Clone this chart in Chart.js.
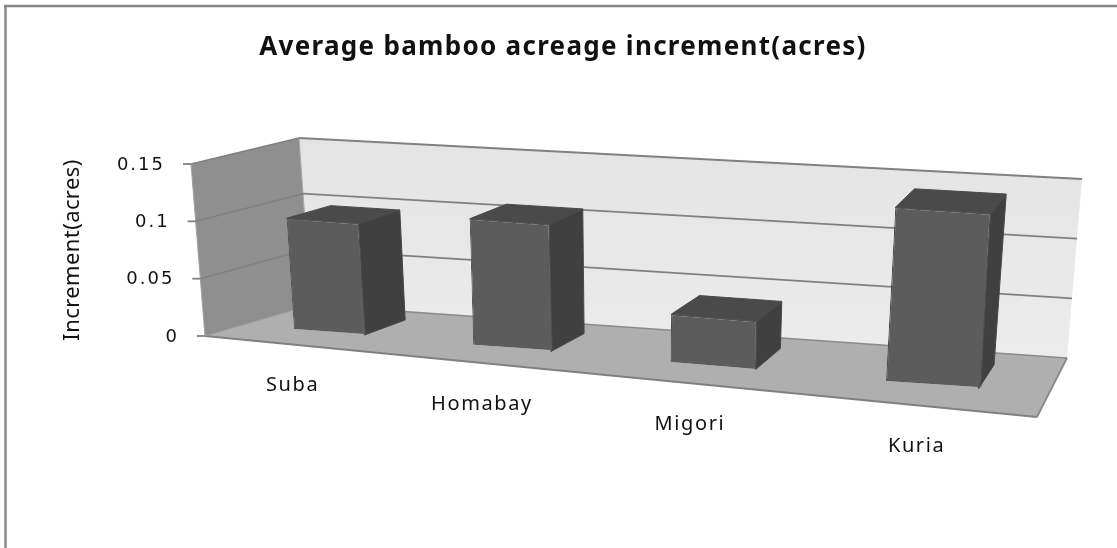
<!DOCTYPE html>
<html>
<head>
<meta charset="utf-8">
<style>html,body{margin:0;padding:0;background:#fff}#wrap{width:1117px;height:548px}</style>
<script src="https://cdn.jsdelivr.net/npm/chart.js@4"></script>
</head>
<body>
<div id="wrap"><canvas id="c" width="1117" height="548"></canvas></div>
<script>
const categories = ["Suba", "Homabay", "Migori", "Kuria"];
const values = [0.097, 0.108, 0.04, 0.142];
const yTickLabels = ["0", "0.05", "0.1", "0.15"];
const chartTitle = "Average bamboo acreage increment(acres)";
const yAxisTitle = "Increment(acres)";

const frontPlane = {lb:[205,336], rb:[1037,417], lt:[191,164], rt:[1053,226]};
const backPlane  = {lb:[311,305], rb:[1067,358], lt:[299,138], rt:[1082,179]};
const barDepth = [0.37, 0.8];
const warp = 0.18;
const lerp = (a,b,t)=>a+(b-a)*t;
function onPlane(p,u,v){
  return [0,1].map(i=>lerp(lerp(p.lb[i],p.rb[i],u),lerp(p.lt[i],p.rt[i],u),v));
}
function P(u,v,d){
  const wu = u*(1+warp*(u-1));
  const f = onPlane(frontPlane,wu,v), b = onPlane(backPlane,wu,v);
  return [lerp(f[0],b[0],d),lerp(f[1],b[1],d)];
}
function uv(chart,x,y){
  const a = chart.chartArea;
  return [(x-a.left)/(a.right-a.left),(a.bottom-y)/(a.bottom-a.top)];
}
function poly(ctx,pts,fill,stroke,lw){
  ctx.beginPath();
  pts.forEach((p,i)=>i?ctx.lineTo(p[0],p[1]):ctx.moveTo(p[0],p[1]));
  ctx.closePath();
  if(fill){ctx.fillStyle=fill;ctx.fill();}
  if(stroke){ctx.strokeStyle=stroke;ctx.lineWidth=lw||1;ctx.stroke();}
}
function line(ctx,a,b,color,lw){
  ctx.beginPath();ctx.moveTo(a[0],a[1]);ctx.lineTo(b[0],b[1]);
  ctx.strokeStyle=color;ctx.lineWidth=lw;ctx.stroke();
}
const scene3d = {
  id:'scene3d',
  afterLayout(chart){
    const s = chart.scales.y, ctx = chart.ctx;
    if(!s._wrapped){
      const orig = s.drawTitle;
      s.drawTitle = function(){
        ctx.save();ctx.letterSpacing='0.4px';orig.call(this);ctx.restore();
      };
      s._wrapped = true;
    }
  },
  beforeDraw(chart){
    const ctx = chart.ctx;
    ctx.letterSpacing = '1.3px';
    line(ctx,[5.5,548],[5.5,5],'#8e8e8e',2.6);
    line(ctx,[4,6],[1117,6],'#858585',2.4);
  },
  beforeDatasetsDraw(chart){
    const ctx = chart.ctx, ys = chart.scales.y;
    const grad = ctx.createLinearGradient(0,140,0,360);
    grad.addColorStop(0,'#e4e4e4');grad.addColorStop(1,'#ececec');
    poly(ctx,[P(0,0,1),P(1,0,1),P(1,1,1),P(0,1,1)],grad);
    poly(ctx,[P(0,0,0),P(0,0,1),P(0,1,1),P(0,1,0)],'#8f8f8f');
    poly(ctx,[P(0,0,0),P(1,0,0),P(1,0,1),P(0,0,1)],'#afafaf');
    line(ctx,P(0,0,0),P(1,0,0),'#808080',1.9);
    line(ctx,P(1,0,0),P(1,0,1),'#8a8a8a',1.8);
    line(ctx,P(0,0,1),P(1,0,1),'#8a8a8a',1.5);
    line(ctx,P(0,0,0),P(0,0,1),'#999999',1);
    line(ctx,P(0,0,1),P(0,1,1),'#a8a8a8',1);
    line(ctx,P(0,0,0),P(0,1,0),'#a0a0a0',1);
    ys.ticks.forEach(t=>{
      const v = uv(chart,0,ys.getPixelForValue(t.value))[1];
      const a = P(0,v,0), b = P(0,v,1), c = P(1,v,1);
      if(v>0){
        line(ctx,a,b,'#808080',1.6);
        line(ctx,b,c,'#808080',1.9);
      }
      line(ctx,[a[0]-8,a[1]],a,'#808080',1.8);
      ctx.save();
      ctx.fillStyle='#111';
      ctx.font='18px "DejaVu Sans"';
      ctx.letterSpacing='2px';
      ctx.textAlign='right';ctx.textBaseline='middle';
      ctx.fillText(t.label,a[0]-26,a[1]+1);
      ctx.restore();
    });
  },
  beforeDatasetDraw(chart,args){
    const ctx = chart.ctx, meta = args.meta;
    meta.data.forEach(el=>{
      const l = uv(chart,el.x-el.width/2,el.y), r = uv(chart,el.x+el.width/2,el.base);
      const ul=l[0],ur=r[0],vt=l[1],vb=r[1],d0=barDepth[0],d1=barDepth[1];
      poly(ctx,[P(ur,vt,d0),P(ur,vt,d1),P(ur,vb,d1),P(ur,vb,d0)],'#404040','#484848',1);
      poly(ctx,[P(ul,vt,d0),P(ul,vt,d1),P(ur,vt,d1),P(ur,vt,d0)],'#4a4a4a','#4a4a4a',1);
      const tl=P(ul,vt,d0), tr=P(ur,vt,d0), bl=P(ul,vb,d0);
      const w=el.width, h=el.base-el.y;
      const ax=(tr[0]-tl[0])/w, ay=(tr[1]-tl[1])/w, cx=(bl[0]-tl[0])/h, cy=(bl[1]-tl[1])/h;
      ctx.save();
      const x0=el.x-w/2, y0=el.y;
      ctx.transform(ax,ay,cx,cy,tl[0]-ax*x0-cx*y0,tl[1]-ay*x0-cy*y0);
      el.draw(ctx,chart.chartArea);
      ctx.restore();
    });
    return false;
  },
  afterDatasetsDraw(chart){
    const ctx = chart.ctx, xs = chart.scales.x;
    ctx.save();
    ctx.fillStyle='#111';
    ctx.font='20px "Noto Sans"';
    ctx.letterSpacing='1.6px';
    ctx.textAlign='center';ctx.textBaseline='middle';
    xs.ticks.forEach((t,i)=>{
      const u = uv(chart,xs.getPixelForTick(i),0)[0];
      const p = P(u,0,0);
      ctx.fillText(t.label,p[0],p[1]+41);
    });
    ctx.restore();
  }
};
new Chart(document.getElementById('c'),{
  type:'bar',
  data:{labels:categories,datasets:[{
    data:values,
    backgroundColor:'#5c5c5c',borderColor:'#4c4c4c',borderWidth:1,
    barPercentage:0.405,categoryPercentage:1
  }]},
  plugins:[scene3d],
  options:{
    responsive:false,animation:false,
    layout:{padding:{left:89,right:80,top:0,bottom:212}},
    plugins:{
      legend:{display:false},tooltip:{enabled:false},
      title:{display:true,text:chartTitle,color:'#111',
        font:{family:'"Noto Sans"',size:26,weight:'bold',lineHeight:1.2},
        padding:{top:32,bottom:100.8}}
    },
    scales:{
      x:{display:false,grid:{display:false}},
      y:{min:0,max:0.15,
        afterFit(s){s.width=117;},
        grid:{display:false},border:{display:false},
        ticks:{display:false,stepSize:0.05,callback:(v,i)=>yTickLabels[i]},
        title:{display:true,text:yAxisTitle,color:'#111',
          font:{family:'"Noto Sans"',size:22,lineHeight:1.2},
          padding:{top:-29,bottom:0}}
      }
    }
  }
});
</script>
</body>
</html>
